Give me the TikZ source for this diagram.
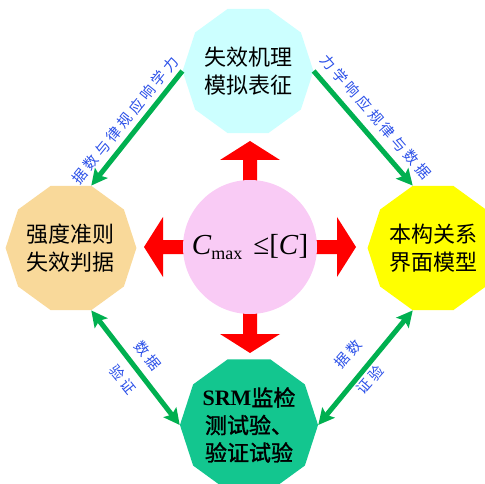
\documentclass[tikz,border=0pt]{standalone}
\usepackage{fontspec}
\setmainfont{Liberation Serif}
\newfontfamily\cjk{Noto Sans CJK SC}
\newfontfamily\cjkbold[FakeBold=1.5]{Noto Sans CJK SC}
\usetikzlibrary{shapes.geometric,arrows.meta}
\definecolor{cyanc}{HTML}{CCFFFF}
\definecolor{orangec}{HTML}{F9D99A}
\definecolor{yellowc}{HTML}{FFFF00}
\definecolor{tealc}{HTML}{13C68F}
\definecolor{pinkc}{HTML}{F9CBF5}
\definecolor{redc}{HTML}{FF0000}
\definecolor{greenc}{HTML}{00B050}
\definecolor{bluec}{HTML}{2A4FE8}
\newcommand{\ks}{\kern3.5pt}
\begin{document}
\begin{tikzpicture}[x=1pt,y=-1pt,
  deca/.style={regular polygon, regular polygon sides=10, minimum size=128pt,
    inner sep=0pt, align=center, font=\cjk\fontsize{22}{28}\selectfont},
  garrow/.style={line width=5pt, draw=greenc,
    -{Stealth[length=16pt,width=16pt,inset=3pt]}},
  gdouble/.style={line width=5pt, draw=greenc,
    {Stealth[length=16pt,width=16pt,inset=3pt]}-{Stealth[length=16pt,width=16pt,inset=3pt]}},
  lab/.style={text=bluec, inner sep=0pt, font=\cjk\fontsize{14.5}{15}\selectfont},
  redarrow/.style={fill=redc}
]
\useasboundingbox (0,0) rectangle (485,484);
\clip (0,0) rectangle (485,484);

% red block arrows (shapes)
\foreach \a in {0,90,180,270}{
  \fill[redarrow, rotate around={\a:(250,247)}]
    (243,210) -- (243,160) -- (220,160) -- (250,141) -- (280,160) -- (257,160) -- (257,210) -- cycle;
}

% central circle
\node[circle, fill=pinkc, minimum size=134pt, inner sep=0pt] (core) at (250,247)
  {\fontsize{29}{29}\selectfont\textit{C}\raisebox{-5pt}{\fontsize{18}{18}\selectfont max}\hspace{11pt}≤[\textit{C}]};

% decagons
\node[deca, fill=cyanc] (top) at (248,71) {失效机理\\模拟表征};
\node[deca, fill=orangec] (left) at (71,248) {强度准则\\失效判据};
\node[deca, fill=yellowc] (right) at (433,248) {本构关系\\界面模型};
\node[deca, fill=tealc, font=\cjkbold\fontsize{22}{27.5}\selectfont] (bottom) at (249,425)
  {{\rmfamily\bfseries SRM}监检\\测试验、\\验证试验};

% green connectors
\draw[garrow] (top.west) -- (left.corner 1);
\draw[garrow] (top.east) -- (right.corner 2);
\draw[gdouble] (left.corner 7) -- (bottom.west);
\draw[gdouble] (bottom.east) -- (right.corner 6);

% connector labels
\node[lab, rotate=51] (l1) at (125,120) {据\ks 数\ks 与\ks 律\ks 规\ks 应\ks 响\ks 学\ks 力};
\node[lab, rotate=-49] (l2) at (376,117) {力\ks 学\ks 响\ks 应\ks 规\ks 律\ks 与\ks 数\ks 据};
\node[lab, rotate=-51] (l3) at (148,356) {数\ks 据};
\node[lab, rotate=-51] (l4) at (123,380) {验\ks 证};
\node[lab, rotate=49] (l5) at (348,354) {据\ks 数};
\node[lab, rotate=49] (l6) at (370,380) {证\ks 验};
\end{tikzpicture}
\end{document}
